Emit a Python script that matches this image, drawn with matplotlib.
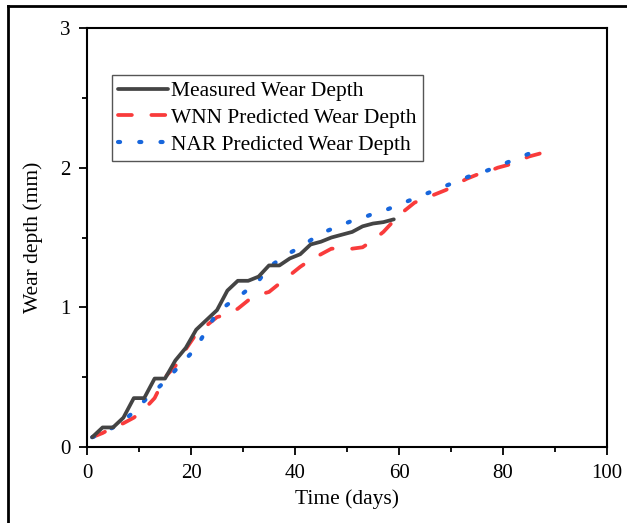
import matplotlib
matplotlib.use("Agg")
import matplotlib.pyplot as plt
from matplotlib.lines import Line2D
from matplotlib.ticker import MultipleLocator

# ─── data ───────────────────────────────────────────────────────────
measured_days = [1, 3, 5, 7, 9, 11, 13, 15, 17, 19, 21, 23, 25, 27, 29,
                 31, 33, 35, 37, 39, 41, 43, 45, 47, 49, 51, 53, 55, 57, 59]
measured_depth = [0.07, 0.14, 0.14, 0.21, 0.35, 0.35, 0.49, 0.49, 0.62, 0.71,
                  0.84, 0.91, 0.98, 1.12, 1.19, 1.19, 1.22, 1.30, 1.30, 1.35,
                  1.38, 1.45, 1.47, 1.50, 1.52, 1.54, 1.58, 1.60, 1.61, 1.63]

wnn_days = [1, 3, 5, 7, 9, 11, 13, 15, 17, 19, 21, 23, 25, 27, 29, 31, 33, 35,
            37, 39, 41, 43, 45, 47, 49, 51, 53, 55, 57, 59, 61, 63, 65, 67,
            69, 71, 73, 75, 77, 79, 81, 83, 85, 87, 89]
wnn_depth = [0.07, 0.10, 0.14, 0.17, 0.21, 0.27, 0.35, 0.50, 0.58, 0.70,
             0.81, 0.87, 0.93, 0.95, 0.99, 1.05, 1.09, 1.11, 1.17, 1.23,
             1.29, 1.34, 1.38, 1.42, 1.42, 1.42, 1.43, 1.48, 1.54, 1.62,
             1.69, 1.75, 1.78, 1.81, 1.84, 1.88, 1.92, 1.95, 1.97, 2.00,
             2.02, 2.05, 2.08, 2.10, 2.14]

nar_days = [1, 3, 5, 7, 9, 11, 13, 15, 17, 19, 21, 23, 25, 27, 29, 31, 33, 35,
            37, 39, 41, 43, 45, 47, 49, 51, 53, 55, 57, 59, 61, 63, 65, 67,
            69, 71, 73, 75, 77, 79, 81, 83, 85, 87]
nar_depth = [0.07, 0.10, 0.14, 0.19, 0.25, 0.33, 0.40, 0.47, 0.55, 0.63,
             0.71, 0.84, 0.96, 1.02, 1.07, 1.13, 1.19, 1.29, 1.34, 1.39,
             1.43, 1.48, 1.53, 1.56, 1.59, 1.62, 1.64, 1.67, 1.69, 1.72,
             1.75, 1.78, 1.81, 1.84, 1.87, 1.90, 1.93, 1.96, 1.98, 2.01,
             2.04, 2.07, 2.10, 2.13]

# ─── plot ───────────────────────────────────────────────────────────
plt.rcParams["font.family"] = ["Liberation Serif", "DejaVu Serif"]

fig = plt.figure(figsize=(6.27, 5.23), dpi=100)
ax = fig.add_axes([87 / 627, 1 - 447 / 523, 520 / 627, 419 / 523])

ax.plot(measured_days, measured_depth, color="#444444", linewidth=2.7,
        solid_capstyle="round", solid_joinstyle="round",
        label="Measured Wear Depth", zorder=3)
ax.plot(wnn_days, wnn_depth, color="#f93b3b", linewidth=2.7,
        linestyle=(0, (3.7, 5.2)), dash_capstyle="round",
        label="WNN Predicted Wear Depth", zorder=2)
ax.plot(nar_days, nar_depth, color="#1766dc", linewidth=3.0,
        linestyle=(0, (0.5, 4.6)), dash_capstyle="round",
        label="NAR Predicted Wear Depth", zorder=2)

ax.set_xlim(0, 100)
ax.set_ylim(0, 3)
ax.xaxis.set_major_locator(MultipleLocator(20))
ax.xaxis.set_minor_locator(MultipleLocator(10))
ax.yaxis.set_major_locator(MultipleLocator(1))
ax.yaxis.set_minor_locator(MultipleLocator(0.5))
ax.tick_params(which="both", direction="out", width=1.3, labelsize=15)
ax.tick_params(which="major", length=6, pad=6)
ax.tick_params(which="minor", length=3.5)
for s in ax.spines.values():
    s.set_linewidth(1.5)

ax.set_xlabel("Time (days)", fontsize=15.5, labelpad=5)
ax.set_ylabel("Wear depth (mm)", fontsize=15.5, labelpad=12)

leg = ax.legend(loc="upper left", bbox_to_anchor=(0.048, 0.888), fontsize=15.5,
                handlelength=2.3, handletextpad=0.15, borderpad=0.3,
                labelspacing=0.3, borderaxespad=0, fancybox=False,
                framealpha=1)
leg.get_frame().set_edgecolor("#555555")
leg.get_frame().set_linewidth(1.0)

# outer frame around the figure (cropped on right / bottom)
fig.add_artist(Line2D([8 / 627, 8 / 627], [0, 1 - 6 / 523], color="black",
                      linewidth=2, transform=fig.transFigure))
fig.add_artist(Line2D([8 / 627, 1], [1 - 6 / 523, 1 - 6 / 523], color="black",
                      linewidth=2, transform=fig.transFigure))

fig.savefig("out.png", dpi=100, facecolor="white")
